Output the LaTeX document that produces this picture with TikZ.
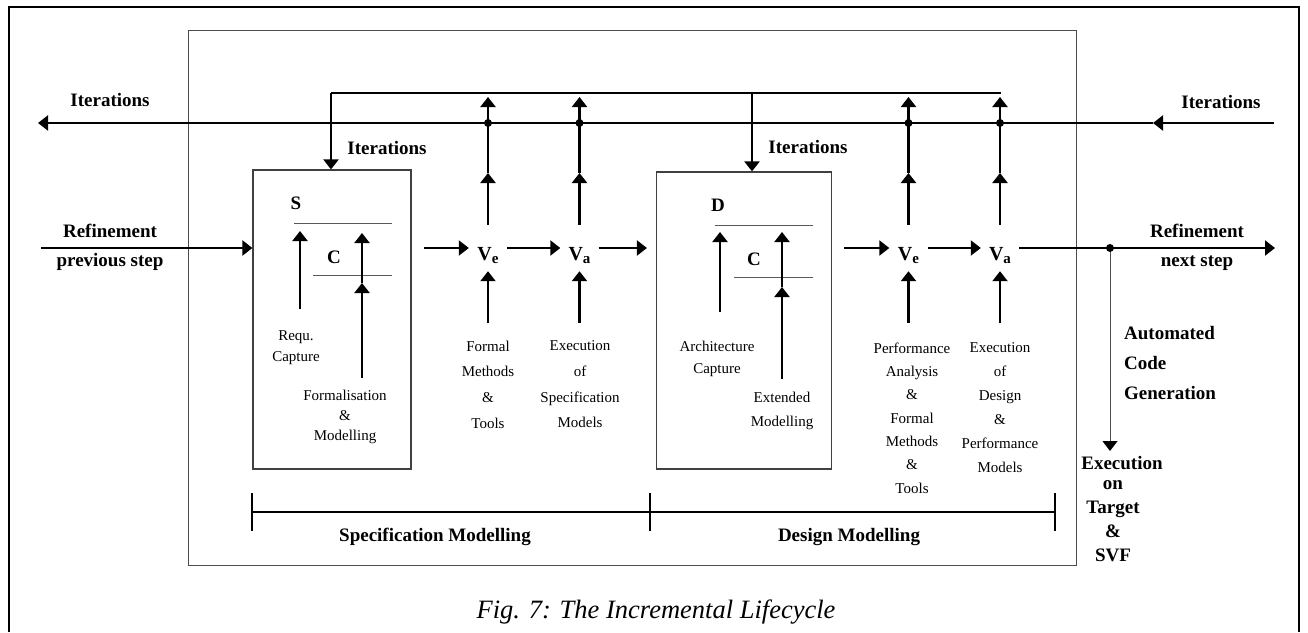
\documentclass[tikz,border=0pt]{standalone}
\usepackage{fontspec}
\setmainfont{Liberation Serif}
\usetikzlibrary{arrows.meta,calc}
\tikzset{
  >={Triangle[length=10pt,width=15pt]},
  flow/.style={->,line width=2.2pt},
  wire/.style={line width=2.2pt},
  thinln/.style={line width=1pt,black!65},
  blk/.style={draw=black!75,line width=1.2pt,inner sep=0pt},
  lbl/.style={font=\fontsize{19}{29}\selectfont\bfseries,inner sep=0pt},
  note/.style={font=\fontsize{15}{#1}\selectfont,align=center,inner sep=0pt},
  vnode/.style={minimum width=38pt,minimum height=46pt,inner sep=0pt,
    font=\fontsize{20}{20}\selectfont\bfseries},
  dot/.style={circle,fill,inner sep=0pt,minimum size=8pt},
}
\newcommand{\vsub}[1]{\raisebox{-12pt}[0pt][0pt]{V\raisebox{-3pt}{\fontsize{15}{15}\selectfont #1}}}

\begin{document}
\begin{tikzpicture}[x=1pt,y=-1pt]
\useasboundingbox (0,0) rectangle (1308,632);

% frames
\draw[line width=2.5pt] (9,632) -- (9,7) -- (1299,7) -- (1299,632);
\draw[line width=1pt,black!70] (188,30) rectangle (1076,565);

% the two modelling boxes
\node[blk,minimum width=158pt,minimum height=299pt] (sbox) at (332,319.5) {};
\node[blk,minimum width=175pt,minimum height=297pt] (dbox) at (744,320.5) {};

% verification steps
\node[vnode] (ve1) at (488,248) {\vsub{e}};
\node[vnode] (va1) at (579.5,248) {\vsub{a}};
\node[vnode] (ve2) at (908.5,248) {\vsub{e}};
\node[vnode] (va2) at (1000,248) {\vsub{a}};

\coordinate (itl) at (38,123);
\coordinate (itm) at (1153,123);
\coordinate (itr) at (1274,123);
\coordinate (fbl) at (331,93);
\coordinate (fbd) at (752,93);
\coordinate (fbr) at (1001,93);
\coordinate (refin) at (41,248);
\coordinate (refout) at (1275,248);
\coordinate (tiprow) at (0,97);
\coordinate (midrow) at (0,173);
\coordinate (botrow) at (0,323);
\coordinate (gen) at (1110,451);

% iterations
\draw[flow] (itr) -- (itm);
\draw[flow] (itm) -- (itl);
\draw[wire] (fbl) -- (fbr);
\draw[flow] (fbl) -- (fbl |- sbox.north);
\draw[flow] (fbd) -- (fbd |- dbox.north);

\foreach \v in {ve1,va1,ve2,va2} {
  \draw[flow] (\v.north) -- (\v |- midrow);
  \draw[flow] (\v |- midrow) -- (\v |- tiprow);
  \draw[flow] (\v |- botrow) -- (\v.south);
  \node[dot] (dot-\v) at (\v |- itl) {};
}

% refinement
\draw[flow] (refin) -- (refin -| sbox.west);
\draw[flow,shorten <=12pt] (sbox.east |- ve1) -- (ve1.west);
\draw[flow] (ve1.east) -- (va1.west);
\draw[flow,shorten >=9pt] (va1.east) -- (va1 -| dbox.west);
\draw[flow,shorten <=12pt] (dbox.east |- ve2) -- (ve2.west);
\draw[flow] (ve2.east) -- (va2.west);
\draw[flow] (va2.east) -- (refout);
\node[dot] (split) at (1110,248) {};
\draw[-{Triangle[length=10pt,width=15pt,black]},line width=1pt,black!70] (split) -- (gen);

% inside S box
\node[lbl] (slbl) at (296,203) {S};
\draw[thinln] (294,223) -- (392,223);
\node[lbl] (c1lbl) at (334,257) {C};
\draw[thinln] (313,275) -- (392,275);
\coordinate (rq0) at (300,309);
\coordinate (rq1) at (300,231);
\coordinate (fm0) at (362,378);
\coordinate (fm1) at (362,283);
\coordinate (fm2) at (362,233);
\draw[flow] (rq0) -- (rq1);
\draw[flow] (fm0) -- (fm1);
\draw[flow] (fm1) -- (fm2);
\node[note=21pt] (requ) at (296,347.5) {Requ.\\Capture};
\node[note=20pt] (formod) at (345,417) {Formalisation\\\&\\Modelling};

% inside D box
\node[lbl] (dlbl) at (718,205) {D};
\draw[thinln] (715,225) -- (813,225);
\node[lbl] (c2lbl) at (754,259) {C};
\draw[thinln] (734,277) -- (813,277);
\coordinate (ar0) at (720,312);
\coordinate (ar1) at (720,232);
\coordinate (ex0) at (782,379);
\coordinate (ex1) at (782,287);
\coordinate (ex2) at (782,232);
\draw[flow] (ar0) -- (ar1);
\draw[flow] (ex0) -- (ex1);
\draw[flow] (ex1) -- (ex2);
\node[note=22pt] (arch) at (717,359) {Architecture\\Capture};
\node[note=24pt] (extm) at (782,411) {Extended\\Modelling};

% inputs of the checks
\node[note=25.7pt] (fmt1) at (488,384.5) {Formal\\Methods\\\&\\Tools};
\node[note=25.7pt] (exs) at (580,384.5) {Execution\\of\\Specification\\Models};
\node[note=23.3pt] (pfa) at (912,418) {Performance\\Analysis\\\&\\Formal\\Methods\\\&\\Tools};
\node[note=24pt] (exd) at (1000,408) {Execution\\of\\Design\\\&\\Performance\\Models};

% bold labels
\node[lbl] (itl-lbl) at (110,100) {Iterations};
\node[lbl] (itr-lbl) at (1221,102) {Iterations};
\node[lbl] (its-lbl) at (387,148) {Iterations};
\node[lbl] (itd-lbl) at (808,147) {Iterations};
\node[lbl,align=center] (refin-lbl) at (110,247.5) {Refinement\\previous step};
\node[lbl,align=center] (refout-lbl) at (1197,247.5) {Refinement\\next step};
\node[lbl,align=left,anchor=west,font=\fontsize{19}{30}\selectfont\bfseries] (acg) at (1124,363) {Automated\\Code\\Generation};
\node[lbl] (exec) at (1122,463) {Execution};
\node[lbl,align=center,font=\fontsize{19}{24}\selectfont\bfseries] (tgt) at (1113,521) {on\\Target\\\&\\SVF};

% phases
\draw[line width=2.2pt] (252,512) -- (1055,512);
\draw[line width=2.2pt] (252,493) -- (252,531);
\draw[line width=2.2pt] (650,493) -- (650,531);
\draw[line width=2.2pt] (1055,493) -- (1055,531);
\node[lbl] (specm) at (435,537) {Specification Modelling};
\node[lbl] (desm) at (849,537) {Design Modelling};

% caption
\node[font=\fontsize{26.5}{26.5}\selectfont\itshape,inner sep=0pt] (cap) at (656,612) {Fig. 7: The Incremental Lifecycle};
\end{tikzpicture}
\end{document}
